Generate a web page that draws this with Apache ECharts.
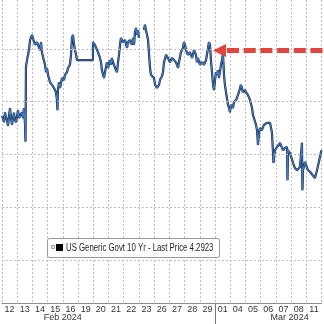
<!DOCTYPE html>
<html><head><meta charset="utf-8">
<script src="https://cdn.jsdelivr.net/npm/echarts@6/dist/echarts.min.js"></script>
<style>html,body{margin:0;padding:0;background:#fff}#c{width:324px;height:324px}</style>
</head><body><div id="c"></div>
<script>
// ---- data ----
const dayLabels = ['12','13','14','15','16','19','20','21','22','23','26','27','28','29','01','04','05','06','07','08','11'];
const monthLabels = ['Feb 2024', 'Mar 2024'];
const gridLevels = [3.9, 4.0, 4.1, 4.2, 4.3];
const legendText = 'US Generic Govt 10 Yr - Last Price 4.2923';
// [trading-day position, yield]
const pricePath = [
[0.01,4.173],[0.14,4.161],[0.20,4.180],[0.33,4.165],[0.40,4.154],[0.53,4.188],[0.60,4.169],[0.66,4.156],
[0.79,4.179],[0.86,4.165],[0.93,4.161],[1.06,4.184],[1.12,4.169],[1.19,4.171],[1.32,4.180],[1.39,4.169],
[1.45,4.188],[1.52,4.156],[1.55,4.124],[1.58,4.266],[1.65,4.279],[1.78,4.298],[1.85,4.317],[1.98,4.327],
[2.04,4.321],[2.17,4.308],[2.31,4.313],[2.37,4.308],[2.50,4.298],[2.57,4.313],[2.63,4.294],[2.70,4.285],
[2.83,4.270],[2.90,4.256],[2.96,4.264],[3.03,4.251],[3.16,4.237],[3.29,4.232],[3.42,4.226],[3.55,4.218],
[3.62,4.203],[3.65,4.184],[3.68,4.222],[3.75,4.237],[3.82,4.226],[3.95,4.245],[4.08,4.241],[4.14,4.251],
[4.28,4.256],[4.34,4.264],[4.47,4.270],[4.54,4.289],[4.60,4.321],[4.67,4.327],[4.74,4.308],[4.80,4.298],
[4.87,4.289],[4.93,4.279],[5.98,4.279],[5.98,4.313],[6.11,4.308],[6.25,4.298],[6.31,4.294],[6.44,4.283],
[6.51,4.275],[6.57,4.260],[6.64,4.251],[6.71,4.245],[6.77,4.256],[6.90,4.275],[6.97,4.264],[7.10,4.279],
[7.17,4.270],[7.23,4.283],[7.30,4.275],[7.43,4.264],[7.56,4.256],[7.63,4.275],[7.69,4.289],[7.76,4.308],
[7.82,4.321],[7.95,4.313],[8.09,4.317],[8.22,4.302],[8.28,4.313],[8.41,4.317],[8.54,4.308],[8.61,4.321],
[8.68,4.308],[8.74,4.332],[8.81,4.340],[8.87,4.327],[8.94,4.336],[9.00,4.321],[9.15,null],
[9.33,4.336],[9.40,4.346],[9.46,4.336],[9.53,4.327],[9.60,4.317],[9.73,4.264],[9.79,4.251],[9.92,4.251],
[9.99,4.245],[10.06,4.232],[10.19,4.226],[10.32,4.232],[10.38,4.241],[10.52,4.249],[10.58,4.256],[10.65,4.275],
[10.78,4.289],[10.91,4.283],[11.04,4.275],[11.17,4.283],[11.30,4.279],[11.43,4.275],[11.57,4.264],[11.63,4.275],
[11.76,4.294],[11.89,4.302],[11.96,4.313],[12.03,4.308],[12.09,4.298],[12.22,4.289],[12.35,4.294],[12.49,4.283],
[12.62,4.298],[12.75,4.289],[12.81,4.275],[12.88,4.283],[13.01,4.270],[13.14,4.275],[13.27,4.270],[13.41,4.279],
[13.54,4.302],[13.60,4.313],[13.67,4.308],[13.73,4.279],[13.80,4.256],[13.87,4.232],[13.93,4.222],[14.00,4.241],
[14.06,4.256],[14.13,4.251],[14.19,4.260],[14.26,4.245],[14.39,4.270],[14.46,4.279],[14.52,4.292],[14.59,4.251],
[14.65,4.232],[14.72,4.218],[14.78,4.207],[14.85,4.194],[14.92,4.188],[14.98,4.180],[15.05,4.194],[15.18,4.188],
[15.24,4.199],[15.38,4.203],[15.44,4.207],[15.57,4.218],[15.64,4.226],[15.70,4.232],[15.77,4.226],[15.83,4.218],
[15.97,4.222],[16.03,4.218],[16.16,4.213],[16.30,4.203],[16.43,4.188],[16.49,4.175],[16.62,4.163],[16.69,4.156],
[16.76,4.146],[16.82,4.118],[16.89,4.141],[16.95,4.150],[17.08,4.146],[17.21,4.156],[17.41,4.160],[17.61,4.160],
[17.74,4.141],[17.81,4.103],[17.84,4.084],[17.94,4.108],[18.07,4.114],[18.27,4.122],[18.46,4.108],[18.59,4.112],
[18.73,4.114],[18.76,4.051],[18.79,4.108],[18.92,4.103],[19.12,4.084],[19.25,4.074],[19.38,4.070],[19.58,4.076],
[19.71,4.122],[19.74,4.032],[19.78,4.070],[19.91,4.086],[20.10,4.070],[20.24,4.067],[20.37,4.065],[20.56,4.055],
[20.70,4.070],[20.89,4.095],[20.95,4.103],[20.99,4.108]
];

// ---- chart ----
const chart = echarts.init(document.getElementById('c'), null, {renderer: 'canvas'});
const dotted = {color: '#bdbdbd', type: [2, 2], width: 1};
chart.setOption({
  animation: false,
  backgroundColor: '#ffffff',
  grid: {left: 1.9, right: 2.4, top: 0, bottom: 21, containLabel: false},
  xAxis: [
    {type: 'value', min: 0, max: dayLabels.length, show: false},
    {type: 'category', data: dayLabels, boundaryGap: true, position: 'bottom',
     axisLine: {show: true, lineStyle: {color: '#8c8c8c', width: 1}},
     axisTick: {show: false},
     axisLabel: {interval: 0, color: '#333', fontSize: 9, fontFamily: 'Liberation Sans', margin: 2},
     splitLine: {show: true, interval: 0, lineStyle: dotted}}
  ],
  yAxis: {type: 'value', min: 3.818, max: 4.393, show: false},
  series: [
    {type: 'line', data: [], xAxisIndex: 0, z: 1, silent: true,
     markLine: {silent: true, symbol: 'none', label: {show: false}, lineStyle: dotted,
                data: gridLevels.map(v => ({yAxis: v}))}},
    {type: 'line', data: pricePath, xAxisIndex: 0, showSymbol: false, connectNulls: false, z: 3,
     lineStyle: {color: '#1b2434', width: 2.2}},
    {type: 'line', data: pricePath, xAxisIndex: 0, showSymbol: false, connectNulls: false, z: 4,
     lineStyle: {color: '#3f7dca', width: 1.1}}
  ]
});

const px = t => chart.convertToPixel({xAxisIndex: 0}, t);
const py = v => chart.convertToPixel({yAxisIndex: 0}, v);
const sepX = Math.round(px(14)) + 0.5;
const arrowY = py(4.30) + 1.5;
chart.setOption({
  graphic: [
    {type: 'line', shape: {x1: sepX, y1: 303, x2: sepX, y2: 324}, style: {stroke: '#7a7a7a', lineWidth: 1}, z: 10},
    {type: 'text', x: px(4), y: 318, style: {text: monthLabels[0], fill: '#333', font: '9px "Liberation Sans"', align: 'center', verticalAlign: 'middle'}, z: 10},
    {type: 'text', x: px(18.9), y: 318, style: {text: monthLabels[1], fill: '#333', font: '9px "Liberation Sans"', align: 'center', verticalAlign: 'middle'}, z: 10},
    // legend box
    {type: 'rect', shape: {x: 47.5, y: 238.5, width: 172, height: 19, r: 2}, style: {fill: '#fff', stroke: '#9a9a9a', lineWidth: 1}, z: 20},
    {type: 'rect', shape: {x: 51.5, y: 245.5, width: 3, height: 3}, style: {fill: '#e6e6e6', stroke: '#a0a0a0', lineWidth: 1}, z: 21},
    {type: 'rect', shape: {x: 56, y: 244, width: 7, height: 7}, style: {fill: '#000'}, z: 21},
    {type: 'text', x: 66, y: 248, scaleX: 0.78, style: {text: legendText, fill: '#222', font: '10px "Liberation Sans"', verticalAlign: 'middle'}, z: 21},
    // red dashed arrow
    {type: 'polygon', shape: {points: [[213, arrowY], [226, arrowY - 6.5], [226, arrowY + 6.5]]}, style: {fill: '#e2453b'}, z: 15},
    {type: 'line', shape: {x1: 227, y1: arrowY, x2: 324, y2: arrowY}, style: {stroke: '#e2453b', lineWidth: 5, lineDash: [12, 4.7]}, z: 15}
  ]
});
</script>
</body></html>
